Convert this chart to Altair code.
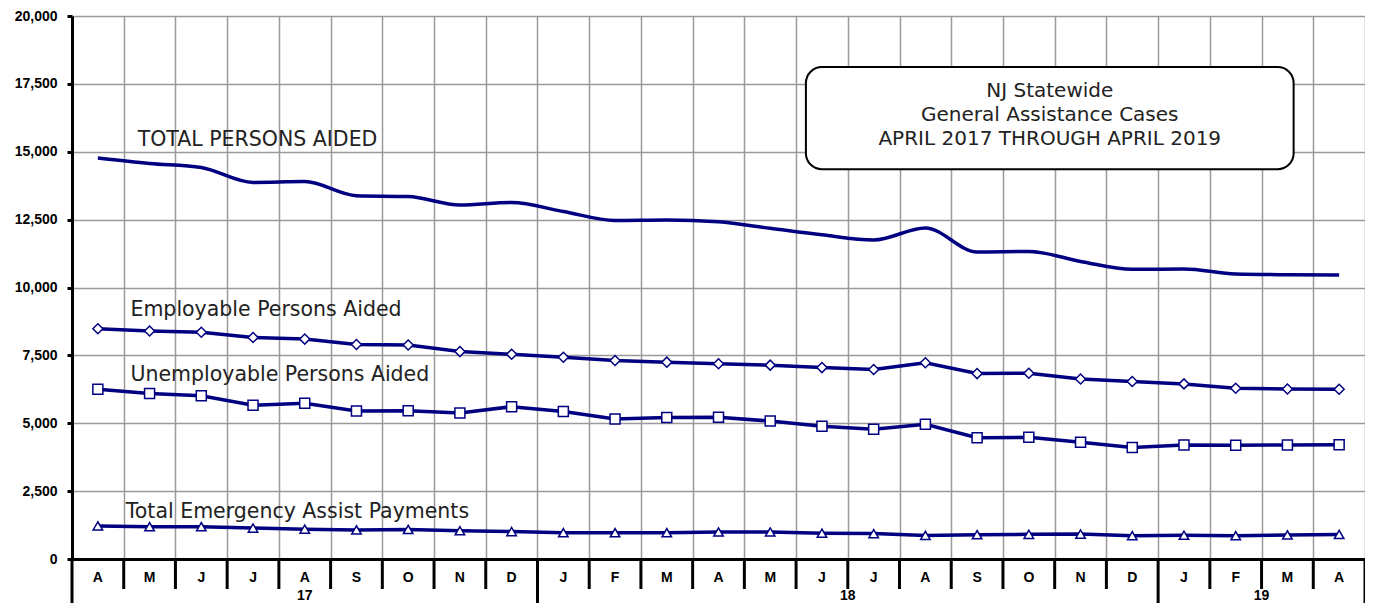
import altair as alt
import pandas as pd

# ---------------- data ----------------
months = ["A", "M", "J", "J", "A", "S", "O", "N", "D",
          "J", "F", "M", "A", "M", "J", "J", "A", "S", "O", "N", "D",
          "J", "F", "M", "A"]
years = ["17", "18", "19"]
year_start = [0, 9, 21]
year_end = [9, 21, 25]

total_persons = [14770, 14570, 14420, 13870, 13900, 13380, 13350, 13040, 13130,
                 12800, 12470, 12490, 12420, 12180, 11940, 11750, 12190, 11310,
                 11330, 10960, 10670, 10680, 10500, 10470, 10460]
employable = [8480, 8400, 8350, 8160, 8100, 7900, 7880, 7640, 7540,
              7430, 7310, 7250, 7190, 7140, 7050, 6980, 7230, 6830, 6840,
              6630, 6540, 6450, 6290, 6260, 6250]
unemployable = [6250, 6100, 6010, 5660, 5740, 5450, 5460, 5380, 5610,
                5430, 5160, 5210, 5220, 5080, 4890, 4780, 4960, 4470, 4480,
                4300, 4110, 4200, 4190, 4200, 4210]
emergency = [1220, 1190, 1190, 1140, 1100, 1070, 1090, 1040, 1010,
             970, 970, 970, 995, 995, 950, 935, 870, 895, 910,
             920, 860, 875, 860, 885, 905]

series_labels = ["TOTAL PERSONS AIDED", "Employable Persons Aided",
                 "Unemployable Persons Aided", "Total Emergency Assist Payments"]
label_x = [1.27, 1.13, 1.13, 1.04]
label_y = [15430, 9170, 6780, 1730]

title_lines = ["NJ Statewide", "General Assistance Cases",
               "APRIL 2017 THROUGH APRIL 2019"]
title_y = [17230, 16350, 15470]
box_x = [14.19, 23.62]
box_y = [14360, 18120]

y_ticks = [0, 2500, 5000, 7500, 10000, 12500, 15000, 17500, 20000]

# ---------------- layout ----------------
W, H = 1293, 543
NAVY = "#000080"
n = len(months)
xs = [i + 0.5 for i in range(n)]

xscale = alt.Scale(domain=[0, n], nice=False, zero=False)
yscale = alt.Scale(domain=[0, 20000], nice=False, zero=True)
xaxis = alt.Axis(values=list(range(n + 1)), labels=False, ticks=False, title=None,
                 grid=True, gridColor="#9a9a9a", gridWidth=1.5,
                 domain=True, domainColor="black", domainWidth=3)
yaxis = alt.Axis(values=y_ticks, format=",.0f", title=None, grid=True,
                 gridColor="#9a9a9a", gridWidth=1.5, domain=True,
                 domainColor="black", domainWidth=3, ticks=True, tickSize=5,
                 tickWidth=3, tickColor="black", labelFont="Liberation Sans",
                 labelFontWeight="bold", labelFontSize=14, labelColor="black",
                 labelPadding=10)

X = alt.X("x:Q", scale=xscale, axis=xaxis)
Y = alt.Y("v:Q", scale=yscale, axis=yaxis)

def sdf(vals, name):
    return pd.DataFrame({"x": xs, "v": vals, "s": name})

tot_df = sdf(total_persons, "total")
emp_df = sdf(employable, "emp")
une_df = sdf(unemployable, "une")
eme_df = sdf(emergency, "eme")

layers = []
layers.append(alt.Chart(tot_df).mark_line(color=NAVY, strokeWidth=3.5,
                                           interpolate="monotone").encode(x=X, y=Y))
for d, shape, size in [(emp_df, "diamond", 100), (une_df, "square", 100),
                       (eme_df, "triangle-up", 90)]:
    layers.append(alt.Chart(d).mark_line(color=NAVY, strokeWidth=3.5).encode(x=X, y=Y))
    layers.append(alt.Chart(d).mark_point(shape=shape, size=size, filled=True,
                                          fill="white", stroke=NAVY, strokeWidth=1.5,
                                          opacity=1).encode(x=X, y=Y))

# series labels
lab_df = pd.DataFrame({"x": label_x, "v": label_y, "t": series_labels})
layers.append(alt.Chart(lab_df).mark_text(align="left", baseline="middle",
                                          font="DejaVu Sans", fontSize=20.5,
                                          color="#222222").encode(x=X, y=Y, text="t:N"))

# title box
box_df = pd.DataFrame({"x": [box_x[0]], "x2": [box_x[1]], "v": [box_y[0]], "v2": [box_y[1]]})
layers.append(alt.Chart(box_df).mark_rect(fill="white", stroke="black", strokeWidth=2,
                                          cornerRadius=16).encode(
    x=X, x2="x2:Q", y=Y, y2="v2:Q"))
tl_df = pd.DataFrame({"x": [(box_x[0] + box_x[1]) / 2] * 3, "v": title_y, "t": title_lines})
layers.append(alt.Chart(tl_df).mark_text(align="center", baseline="middle",
                                         font="DejaVu Sans", fontSize=20,
                                         color="#222222").encode(x=X, y=Y, text="t:N"))

# category axis below the plot
bounds = list(range(n + 1))
long_b = sorted(set(year_start + [n]))
short_df = pd.DataFrame({"x": [b for b in bounds if b not in long_b]})
long_df = pd.DataFrame({"x": long_b})
layers.append(alt.Chart(short_df).mark_rule(color="black", strokeWidth=3).encode(
    x=X, y=alt.value(H), y2=alt.value(H + 30)))
layers.append(alt.Chart(long_df).mark_rule(color="black", strokeWidth=3).encode(
    x=X, y=alt.value(H), y2=alt.value(H + 60)))
mon_df = pd.DataFrame({"x": xs, "t": months})
layers.append(alt.Chart(mon_df).mark_text(font="Liberation Sans", fontWeight="bold",
                                          fontSize=14, color="black", baseline="middle").encode(
    x=X, y=alt.value(H + 19), text="t:N"))
yr_df = pd.DataFrame({"x": [(a + b) / 2 for a, b in zip(year_start, year_end)], "t": years})
layers.append(alt.Chart(yr_df).mark_text(font="Liberation Sans", fontWeight="bold",
                                         fontSize=14, color="black", baseline="middle").encode(
    x=X, y=alt.value(H + 37), text="t:N"))

chart = alt.layer(*layers).properties(
    width=W, height=H,
    padding={"left": 64, "top": 8, "right": 0, "bottom": 44},
    autosize=alt.AutoSizeParams(type="none"),
).configure_view(stroke=None).configure(background="white")

chart.save("out.html", embed_options={"renderer": "svg", "actions": False})
